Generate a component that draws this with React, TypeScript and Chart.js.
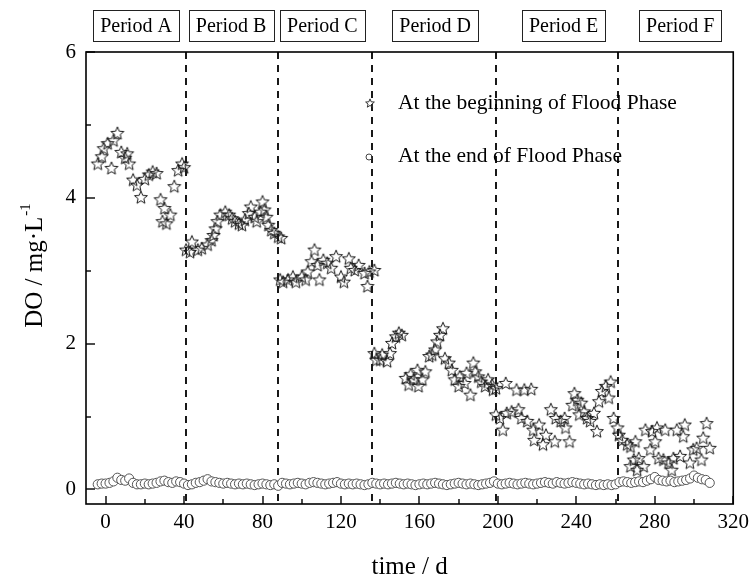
import React, { useEffect, useRef } from "react";
import { Chart, registerables } from "chart.js";

Chart.register(...registerables);

const SERIF = "'Liberation Serif', 'Times New Roman', serif";

// Axis ticks
const xTickValues = [0, 40, 80, 120, 160, 200, 240, 280, 320];
const xMinorValues = [20, 60, 100, 140, 180, 220, 260, 300];
const yTickValues = [0, 2, 4, 6];
const yMinorValues = [1, 3, 5];

// Operating periods: boundaries (day) and label positions (day)
const periodNames = ["Period A", "Period B", "Period C", "Period D", "Period E", "Period F"];
const periodBoundaries = [41, 88, 136, 199, 261];
const periodLabelCenters = [15.5, 64, 110.5, 168, 233.5, 293];

// DO at the beginning of the flood phase, [day, mg/L]
const beginPeriodA: [number, number][] = [
  [-4, 4.47], [-2, 4.57], [-1, 4.68], [1, 4.75], [3, 4.41], [4, 4.79], [6, 4.89], [8, 4.63],
  [10, 4.55], [11, 4.61], [12, 4.47], [14, 4.25], [16, 4.18], [18, 4.01], [20, 4.26], [22, 4.32],
  [24, 4.36], [26, 4.34], [28, 3.98], [29, 3.68], [30, 3.86], [31, 3.65], [33, 3.77], [35, 4.16],
  [37, 4.38], [39, 4.47], [40, 4.42],
];
const beginPeriodB: [number, number][] = [
  [41, 3.29], [43, 3.26], [44, 3.4], [47, 3.29], [49, 3.31], [52, 3.36], [54, 3.42], [55, 3.49],
  [56, 3.58], [57, 3.68], [58.5, 3.77], [61, 3.81], [63, 3.77], [64.5, 3.72], [66, 3.68], [68, 3.65],
  [69.5, 3.63], [71, 3.7], [73, 3.79], [74, 3.88], [76, 3.74], [77, 3.68], [79, 3.81], [80, 3.95],
  [81, 3.84], [82, 3.74], [83, 3.63], [84.5, 3.56], [86, 3.52], [88, 3.47], [89.5, 3.45],
];
const beginPeriodC: [number, number][] = [
  [89, 2.88], [90.5, 2.85], [93, 2.88], [95.5, 2.92], [97, 2.85], [100, 2.92], [102, 2.88], [103, 2.99],
  [105, 3.13], [106.5, 3.29], [108, 3.08], [109, 2.88], [111, 3.15], [113, 3.11], [115, 3.04],
  [117.5, 3.2], [120, 2.92], [121.5, 2.85], [124, 3.17], [125, 3.04], [127, 3.01], [129, 3.08],
  [132, 2.97], [133.5, 2.79], [134.5, 2.99], [137, 3.01],
];
const beginPeriodD: [number, number][] = [
  [137, 1.87], [138, 1.78], [140, 1.78], [141, 1.85], [143.5, 1.76], [145, 1.87], [146, 2.01],
  [148, 2.1], [149.5, 2.15], [151, 2.12], [153, 1.53], [154.5, 1.44], [155.5, 1.58], [157, 1.51],
  [159, 1.64], [159.5, 1.42], [161.5, 1.51], [163, 1.62], [165, 1.83], [166.5, 1.85], [168, 1.92],
  [169, 2.03], [170.5, 2.12], [172, 2.21], [173, 1.8], [175, 1.74], [176.5, 1.64], [178, 1.51],
  [180, 1.42], [180.5, 1.55], [183, 1.46], [184, 1.6], [186, 1.3], [187.5, 1.74], [188.5, 1.62],
  [190, 1.55], [191.5, 1.48], [193.5, 1.42], [195, 1.51], [197, 1.44], [197.5, 1.37], [199, 1.39],
];
const beginPeriodE: [number, number][] = [
  [199, 1.03], [201, 0.98], [202.5, 0.82], [204, 1.46], [204.5, 1.05], [207, 1.07], [209.5, 1.37],
  [210.5, 1.1], [212, 0.98], [213.5, 1.37], [215, 0.94], [217, 1.38], [218, 0.82], [218.5, 0.68],
  [221, 0.89], [223, 0.62], [224.5, 0.75], [227, 1.1], [229, 0.66], [229.5, 0.98], [232, 0.94],
  [234, 0.98], [234.5, 0.85], [236.5, 0.66], [238, 1.16], [239, 1.32], [240.5, 1.23], [241.5, 1.03],
  [242.5, 1.19], [244, 1.07], [245.5, 0.98], [247, 0.94], [249, 1.05], [250.5, 0.8], [251.5, 1.21],
  [253, 1.35], [255, 1.42], [256.5, 1.26], [257.5, 1.48], [259, 0.98], [261, 0.85],
];
const beginPeriodF: [number, number][] = [
  [261.7, 0.75], [263.4, 0.68], [265.9, 0.62], [267.6, 0.59], [270.1, 0.66], [267.6, 0.32],
  [269.3, 0.41], [271.8, 0.43], [271, 0.27], [274.3, 0.32], [275.2, 0.82], [277.7, 0.55],
  [278.6, 0.8], [280.2, 0.66], [281.1, 0.85], [281.9, 0.43], [284.4, 0.41], [285.3, 0.82],
  [287, 0.37], [288.6, 0.27], [289.5, 0.43], [291.2, 0.82], [292.9, 0.46], [294.5, 0.73],
  [295.3, 0.89], [297.9, 0.37], [299.6, 0.55], [301.3, 0.57], [303.8, 0.41], [304.7, 0.71],
  [306.4, 0.91], [308, 0.57],
];

// DO at the end of the flood phase, [day, mg/L]
const endFlood: [number, number][] = [
  [-4, 0.07], [-2, 0.08], [0, 0.08], [2, 0.09], [4, 0.11], [6, 0.16], [8, 0.13], [10, 0.12],
  [12, 0.15], [14, 0.09], [16, 0.07], [18, 0.07], [20, 0.08], [22, 0.07], [24, 0.08], [26, 0.09],
  [28, 0.11], [30, 0.12], [32, 0.1], [34, 0.09], [36, 0.11], [38, 0.1], [40, 0.08], [42, 0.06],
  [44, 0.07], [46, 0.09], [48, 0.1], [50, 0.12], [52, 0.14], [54, 0.11], [56, 0.1], [58, 0.09],
  [60, 0.08], [62, 0.09], [64, 0.08], [66, 0.07], [68, 0.08], [70, 0.07], [72, 0.08], [74, 0.07],
  [76, 0.06], [78, 0.07], [80, 0.08], [82, 0.07], [84, 0.06], [86, 0.07], [88, 0.05], [90, 0.09],
  [92, 0.08], [94, 0.07], [96, 0.08], [98, 0.09], [100, 0.08], [102, 0.07], [104, 0.09], [106, 0.1],
  [108, 0.09], [110, 0.08], [112, 0.07], [114, 0.08], [116, 0.09], [118, 0.1], [120, 0.08],
  [122, 0.07], [124, 0.08], [126, 0.07], [128, 0.08], [130, 0.07], [132, 0.06], [134, 0.07],
  [136, 0.09], [138, 0.08], [140, 0.07], [142, 0.08], [144, 0.07], [146, 0.08], [148, 0.09],
  [150, 0.08], [152, 0.07], [154, 0.08], [156, 0.07], [158, 0.06], [160, 0.07], [162, 0.08],
  [164, 0.07], [166, 0.08], [168, 0.09], [170, 0.08], [172, 0.07], [174, 0.06], [176, 0.07],
  [178, 0.08], [180, 0.09], [182, 0.08], [184, 0.07], [186, 0.08], [188, 0.07], [190, 0.06],
  [192, 0.07], [194, 0.08], [196, 0.09], [198, 0.11], [200, 0.08], [202, 0.07], [204, 0.08],
  [206, 0.09], [208, 0.08], [210, 0.07], [212, 0.08], [214, 0.09], [216, 0.08], [218, 0.07],
  [220, 0.08], [222, 0.09], [224, 0.1], [226, 0.09], [228, 0.08], [230, 0.1], [232, 0.09],
  [234, 0.08], [236, 0.09], [238, 0.1], [240, 0.09], [242, 0.08], [244, 0.07], [246, 0.08],
  [248, 0.07], [250, 0.06], [252, 0.07], [254, 0.06], [256, 0.07], [258, 0.06], [260, 0.07],
  [262, 0.1], [264, 0.11], [266, 0.1], [268, 0.09], [270, 0.1], [272, 0.11], [274, 0.1],
  [276, 0.12], [278, 0.14], [280, 0.17], [282, 0.13], [284, 0.12], [286, 0.11], [288, 0.12],
  [290, 0.1], [292, 0.11], [294, 0.12], [296, 0.13], [298, 0.15], [300, 0.19], [302, 0.16],
  [304, 0.14], [306, 0.13], [308, 0.09],
];

const legendLabels = ["At the beginning of Flood Phase", "At the end of Flood Phase"];

function makeStar(outer: number, lineWidth: number, color: string): HTMLCanvasElement {
  const inner = outer * 0.44;
  const size = Math.ceil(outer * 2 + lineWidth * 2 + 2);
  const c = document.createElement("canvas");
  c.width = size;
  c.height = size;
  const g = c.getContext("2d")!;
  g.translate(size / 2, size / 2 + outer * 0.1);
  g.beginPath();
  for (let i = 0; i < 10; i++) {
    const r = i % 2 === 0 ? outer : inner;
    const ang = -Math.PI / 2 + (i * Math.PI) / 5;
    g.lineTo(r * Math.cos(ang), r * Math.sin(ang));
  }
  g.closePath();
  g.strokeStyle = color;
  g.lineWidth = lineWidth;
  g.lineJoin = "miter";
  g.stroke();
  return c;
}

const toPoints = (rows: [number, number][]) => rows.map(([x, y]) => ({ x, y }));

export default function App() {
  const canvasRef = useRef<HTMLCanvasElement | null>(null);

  useEffect(() => {
    const canvas = canvasRef.current;
    if (!canvas) return;

    const dataStar = makeStar(6.8, 1, "#1a1a1a");
    const legendStar = makeStar(4.6, 1, "#333");

    const decorations = {
      id: "decorations",
      beforeDatasetsDraw(chart: any) {
        const { ctx, chartArea: a, scales } = chart;
        const x = scales.x;
        ctx.save();
        ctx.strokeStyle = "#000";
        ctx.lineWidth = 1.8;
        ctx.setLineDash([7, 6]);
        periodBoundaries.forEach((d) => {
          const px = Math.round(x.getPixelForValue(d));
          ctx.beginPath();
          ctx.moveTo(px, a.top);
          ctx.lineTo(px, a.bottom);
          ctx.stroke();
        });
        ctx.restore();
      },
      afterDatasetsDraw(chart: any) {
        const { ctx, chartArea: a, scales } = chart;
        const x = scales.x;
        const y = scales.y;
        ctx.save();

        // frame
        ctx.strokeStyle = "#000";
        ctx.lineWidth = 1.6;
        ctx.strokeRect(a.left, a.top, a.right - a.left, a.bottom - a.top);

        // inward tick marks
        ctx.lineWidth = 1.4;
        const tick = (x0: number, y0: number, x1: number, y1: number) => {
          ctx.beginPath();
          ctx.moveTo(x0, y0);
          ctx.lineTo(x1, y1);
          ctx.stroke();
        };
        xTickValues.forEach((v) => {
          const px = Math.round(x.getPixelForValue(v));
          tick(px, a.bottom, px, a.bottom - 8);
        });
        xMinorValues.forEach((v) => {
          const px = Math.round(x.getPixelForValue(v));
          tick(px, a.bottom, px, a.bottom - 5);
        });
        yTickValues.forEach((v) => {
          const py = Math.round(y.getPixelForValue(v));
          tick(a.left, py, a.left + 9, py);
        });
        yMinorValues.forEach((v) => {
          const py = Math.round(y.getPixelForValue(v));
          tick(a.left, py, a.left + 5, py);
        });

        // period label boxes
        ctx.font = `20px ${SERIF}`;
        ctx.textAlign = "center";
        ctx.textBaseline = "middle";
        ctx.fillStyle = "#000";
        ctx.lineWidth = 1;
        periodNames.forEach((name, i) => {
          const cx = x.getPixelForValue(periodLabelCenters[i]);
          const w = ctx.measureText(name).width + 14;
          const bx = Math.round(cx - w / 2) + 0.5;
          ctx.strokeStyle = "#222";
          ctx.strokeRect(bx, 10.5, Math.round(w), 31);
          ctx.fillText(name, cx, 26.5);
        });

        // legend
        ctx.drawImage(legendStar, 370 - legendStar.width / 2, 103 - legendStar.height / 2);
        ctx.beginPath();
        ctx.arc(369, 157, 3, 0, Math.PI * 2);
        ctx.strokeStyle = "#444";
        ctx.lineWidth = 1;
        ctx.stroke();
        ctx.font = `21.5px ${SERIF}`;
        ctx.textAlign = "left";
        ctx.fillStyle = "#000";
        ctx.fillText(legendLabels[0], 398, 103);
        ctx.fillText(legendLabels[1], 398, 156);

        // axis titles
        ctx.font = `25px ${SERIF}`;
        ctx.textAlign = "center";
        ctx.fillText("time / d", (a.left + a.right) / 2, 567);

        ctx.save();
        ctx.translate(33, 266);
        ctx.rotate(-Math.PI / 2);
        const main = "DO / mg\u00b7L";
        const sup = "-1";
        ctx.font = `25px ${SERIF}`;
        const mw = ctx.measureText(main).width;
        ctx.font = `15px ${SERIF}`;
        const sw = ctx.measureText(sup).width;
        const start = -(mw + sw) / 2;
        ctx.textAlign = "left";
        ctx.textBaseline = "alphabetic";
        ctx.font = `25px ${SERIF}`;
        ctx.fillText(main, start, 9);
        ctx.font = `15px ${SERIF}`;
        ctx.fillText(sup, start + mw + 1, -3);
        ctx.restore();

        ctx.restore();
      },
    };

    const starSeries = [
      ...beginPeriodA,
      ...beginPeriodB,
      ...beginPeriodC,
      ...beginPeriodD,
      ...beginPeriodE,
      ...beginPeriodF,
    ];

    const chart = new Chart(canvas, {
      type: "scatter",
      data: {
        datasets: [
          {
            label: legendLabels[0],
            data: toPoints(starSeries),
            pointStyle: dataStar as any,
            pointRadius: 7,
            order: 1,
          },
          {
            label: legendLabels[1],
            data: toPoints(endFlood),
            pointStyle: "circle",
            pointRadius: 4.6,
            borderWidth: 1,
            borderColor: "#555",
            backgroundColor: "#fff",
            order: 2,
          },
        ],
      },
      options: {
        animation: false,
        responsive: false,
        devicePixelRatio: 1,
        events: [],
        layout: { padding: { top: 52, right: 16, left: 0, bottom: 0 } },
        plugins: {
          legend: { display: false },
          tooltip: { enabled: false },
          title: { display: false },
        },
        scales: {
          x: {
            type: "linear",
            min: -10,
            max: 320,
            grid: { display: false, drawTicks: false },
            border: { display: false },
            afterBuildTicks: (s: any) => {
              s.ticks = xTickValues.map((value) => ({ value }));
            },
            afterFit: (s: any) => {
              s.height = 75;
            },
            ticks: {
              font: { family: SERIF, size: 21 },
              color: "#000",
              padding: 6,
              maxRotation: 0,
              autoSkip: false,
            },
          },
          y: {
            type: "linear",
            min: -0.2,
            max: 6,
            grid: { display: false, drawTicks: false },
            border: { display: false },
            afterBuildTicks: (s: any) => {
              s.ticks = yTickValues.map((value) => ({ value }));
            },
            afterFit: (s: any) => {
              s.width = 86;
            },
            ticks: {
              font: { family: SERIF, size: 21 },
              color: "#000",
              padding: 10,
            },
          },
        },
      },
      plugins: [decorations],
    });

    return () => chart.destroy();
  }, []);

  return (
    <div style={{ position: "absolute", left: 0, top: 0, width: 755, height: 579, background: "#fff" }}>
      <canvas ref={canvasRef} width={755} height={579} style={{ display: "block" }} />
    </div>
  );
}
